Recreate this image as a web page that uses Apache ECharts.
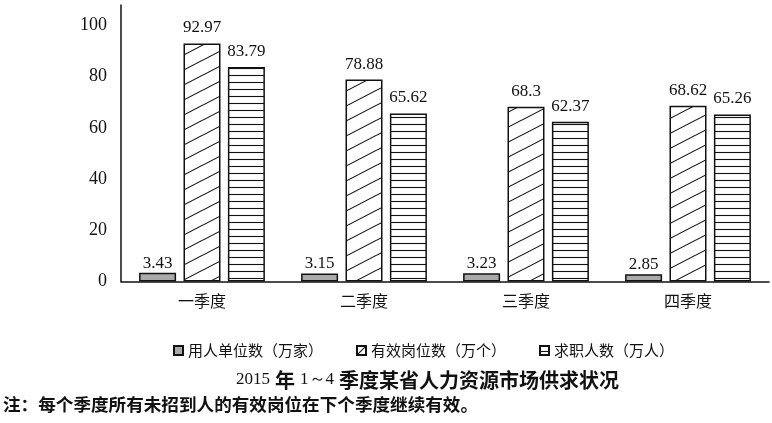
<!DOCTYPE html>
<html>
<head>
<meta charset="utf-8">
<script src="https://cdn.jsdelivr.net/npm/echarts@6/dist/echarts.min.js"></script>
<style>
  html, body { margin: 0; padding: 0; background: #fff; }
  #main { width: 772px; height: 423px; }
</style>
</head>
<body>
<div id="main"></div>
<script>
// 数据
var quarters = ['一季度', '二季度', '三季度', '四季度'];
var seriesNames = ['用人单位数（万家）', '有效岗位数（万个）', '求职人数（万人）'];
var employers = [3.43, 3.15, 3.23, 2.85];
var vacancies = [92.97, 78.88, 68.3, 68.62];
var seekers = [83.79, 65.62, 62.37, 65.26];
var yTicks = [0, 20, 40, 60, 80, 100];

// 斜线填充
function diagPattern(w, h) {
  var c = document.createElement('canvas');
  c.width = w; c.height = h;
  var ctx = c.getContext('2d');
  ctx.fillStyle = '#fff';
  ctx.fillRect(0, 0, w, h);
  ctx.strokeStyle = '#111';
  ctx.lineWidth = 1.1;
  [-h, 0, h].forEach(function (off) {
    ctx.beginPath();
    ctx.moveTo(0, h + off);
    ctx.lineTo(w, off);
    ctx.stroke();
  });
  return { image: c, repeat: 'repeat' };
}

// 横线填充
function horizPattern() {
  var w = 10, h = 7;
  var c = document.createElement('canvas');
  c.width = w; c.height = h;
  var ctx = c.getContext('2d');
  ctx.fillStyle = '#fff';
  ctx.fillRect(0, 0, w, h);
  ctx.strokeStyle = '#111';
  ctx.lineWidth = 1.1;
  ctx.beginPath();
  ctx.moveTo(0, 5.5);
  ctx.lineTo(w, 5.5);
  ctx.stroke();
  return { image: c, repeat: 'repeat' };
}

var serif = 'Liberation Serif';
var cjk = 'Noto Sans CJK SC';

function makeLabel(dist) {
  return {
    show: true,
    position: 'top',
    distance: dist,
    color: '#111',
    fontFamily: serif,
    fontSize: 17
  };
}

var border = { borderColor: '#111', borderWidth: 1.5 };

var myChart = echarts.init(document.getElementById('main'));
myChart.setOption({
  backgroundColor: '#fff',
  animation: false,
  title: [{
    text: '{n|2015} {b|年} {n|1～4} {b|季度某省人力资源市场供求状况}',
    left: 231,
    top: 365,
    textStyle: {
      rich: {
        n: { fontFamily: serif, fontSize: 17, fontWeight: 'normal', color: '#111' },
        b: { fontFamily: cjk, fontSize: 20, fontWeight: 'bold', color: '#111' }
      }
    }
  }, {
    text: '注：每个季度所有未招到人的有效岗位在下个季度继续有效。',
    left: 3,
    top: 396,
    padding: 0,
    textStyle: { fontFamily: cjk, fontSize: 17.6, fontWeight: 'bold', color: '#111' }
  }],
  legend: {
    left: 173,
    top: 343,
    icon: 'rect',
    itemWidth: 9,
    itemHeight: 9,
    itemGap: 33,
    padding: 0,
    textStyle: { fontFamily: cjk, fontSize: 15, color: '#111' },
    data: [
      { name: seriesNames[0] },
      { name: seriesNames[1], itemStyle: { color: diagPattern(9, 9) } },
      { name: seriesNames[2], itemStyle: { color: horizPattern() } }
    ]
  },
  grid: { left: 121, right: 3, top: 5, bottom: 141.5 },
  xAxis: {
    type: 'category',
    data: quarters,
    axisLine: { lineStyle: { color: '#111', width: 1.5 } },
    axisTick: { inside: true, length: 4, lineStyle: { color: '#111' } },
    axisLabel: { margin: 11, fontFamily: cjk, fontSize: 16, color: '#111' }
  },
  yAxis: {
    type: 'value',
    min: yTicks[0],
    max: 108,
    interval: yTicks[1] - yTicks[0],
    splitLine: { show: false },
    axisTick: { show: false },
    axisLine: { show: true, lineStyle: { color: '#111', width: 1.5 } },
    axisLabel: { margin: 14, showMaxLabel: false, fontFamily: serif, fontSize: 18, color: '#111' }
  },
  series: [{
    name: seriesNames[0],
    type: 'bar',
    barWidth: 37,
    barGap: '20%',
    data: employers,
    itemStyle: Object.assign({ color: '#aaaaaa' }, border),
    label: makeLabel(1)
  }, {
    name: seriesNames[1],
    type: 'bar',
    barWidth: 37,
    barGap: '20%',
    data: vacancies,
    itemStyle: Object.assign({ color: diagPattern(29, 15) }, border),
    label: makeLabel(7)
  }, {
    name: seriesNames[2],
    type: 'bar',
    barWidth: 37,
    barGap: '20%',
    data: seekers,
    itemStyle: Object.assign({ color: horizPattern() }, border),
    label: makeLabel(7)
  }]
});
</script>
</body>
</html>
